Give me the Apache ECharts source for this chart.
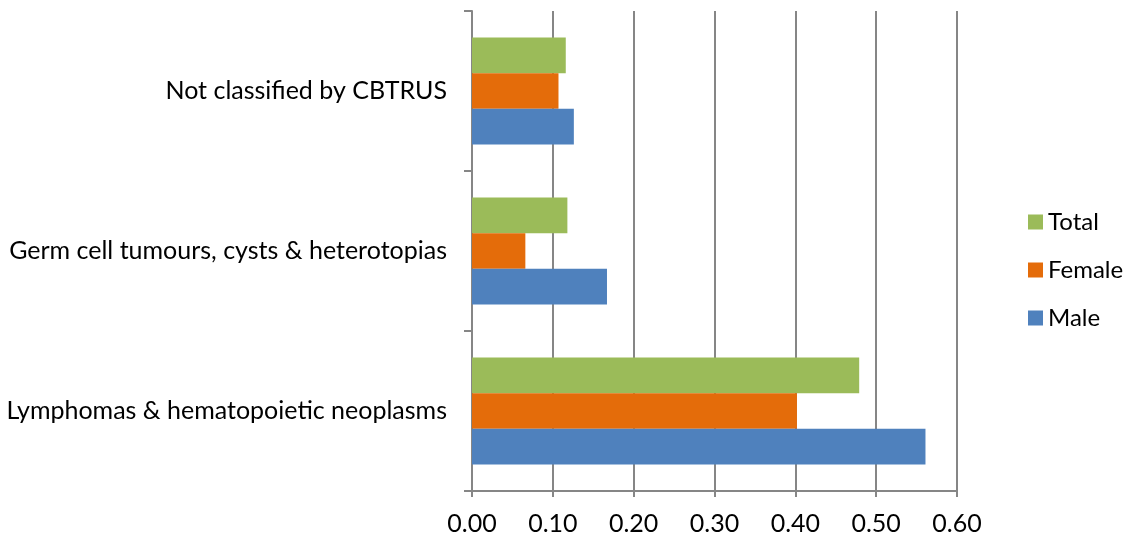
<!DOCTYPE html>
<html>
<head>
<meta charset="utf-8">
<script src="https://cdn.jsdelivr.net/npm/echarts@6/dist/echarts.min.js"></script>
<style>html,body{margin:0;padding:0;background:#fff;}#c{width:1129px;height:537px;}</style>
</head>
<body>
<div id="c"></div>
<script>
const categories = ["Lymphomas & hematopoietic neoplasms", "Germ cell tumours, cysts & heterotopias", "Not classified by CBTRUS"];
const maleValues = [0.561, 0.167, 0.126];
const femaleValues = [0.402, 0.066, 0.107];
const totalValues = [0.479, 0.118, 0.116];
const xTicks = [0, 0.1, 0.2, 0.3, 0.4, 0.5, 0.6];

const font = "Lato, 'Open Sans', sans-serif";
const chart = echarts.init(document.getElementById('c'), null, {renderer: 'canvas'});
chart.setOption({
  animation: false,
  textStyle: {fontFamily: font},
  grid: {left: 472, right: 172, top: 11, bottom: 46, containLabel: false},
  legend: {
    orient: 'vertical', left: 1023, top: 205,
    data: ['Total', 'Female', 'Male'],
    itemWidth: 15, itemHeight: 15, itemGap: 24,
    textStyle: {fontSize: 24, color: '#000', fontFamily: font},
    icon: 'rect'
  },
  xAxis: {
    type: 'value', min: xTicks[0], max: xTicks[xTicks.length - 1], interval: 0.1,
    axisLine: {show: true, lineStyle: {color: '#868686', width: 2}},
    axisTick: {show: true, length: 6, lineStyle: {color: '#868686', width: 2}},
    splitLine: {show: true, lineStyle: {color: '#868686', width: 2}},
    axisLabel: {formatter: v => v.toFixed(2), fontSize: 25, color: '#000', margin: 20, fontFamily: font}
  },
  yAxis: {
    type: 'category', data: categories,
    axisLine: {show: true, lineStyle: {color: '#868686', width: 2}},
    axisTick: {show: true, length: 8, lineStyle: {color: '#868686', width: 2}},
    axisLabel: {fontSize: 25, color: '#000', margin: 25, fontFamily: font}
  },
  series: [
    {name: 'Total', type: 'bar', data: totalValues, itemStyle: {color: '#9BBB59'}, barGap: '0%', barCategoryGap: '33%'},
    {name: 'Female', type: 'bar', data: femaleValues, itemStyle: {color: '#E46C0A'}, barGap: '0%', barCategoryGap: '33%'},
    {name: 'Male', type: 'bar', data: maleValues, itemStyle: {color: '#4F81BD'}, barGap: '0%', barCategoryGap: '33%'}
  ]
});
</script>
</body>
</html>
